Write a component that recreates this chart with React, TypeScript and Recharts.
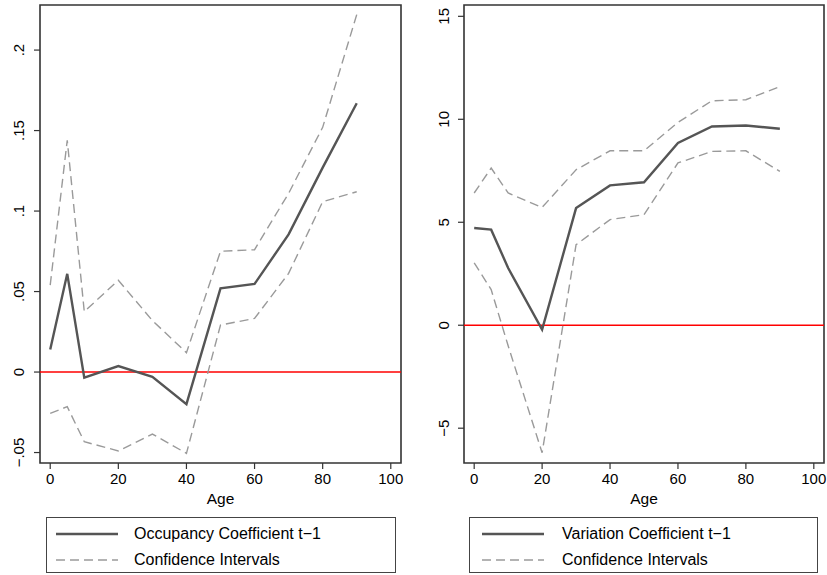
import React from 'react';
import { LineChart, Line, XAxis, YAxis, ReferenceLine, ReferenceArea } from 'recharts';

// age groups on the x axis
const ages = [0, 5, 10, 20, 30, 40, 50, 60, 70, 80, 90];
const ageTicks = [0, 20, 40, 60, 80, 100];

// left panel: occupancy coefficient
const occCoef = [0.014, 0.061, -0.0035, 0.0037, -0.003, -0.0199, 0.052, 0.0547, 0.0855, 0.127, 0.167];
const occUpper = [0.054, 0.144, 0.0375, 0.057, 0.032, 0.012, 0.075, 0.076, 0.111, 0.152, 0.222];
const occLower = [-0.0257, -0.0215, -0.0433, -0.049, -0.0385, -0.0505, 0.0292, 0.0333, 0.0613, 0.1058, 0.112];
const occTicks = [-0.05, 0, 0.05, 0.1, 0.15, 0.2];

// right panel: variation coefficient
const varCoef = [4.72, 4.64, 2.78, -0.21, 5.69, 6.79, 6.94, 8.85, 9.65, 9.7, 9.54];
const varUpper = [6.42, 7.63, 6.42, 5.72, 7.55, 8.47, 8.47, 9.85, 10.9, 10.95, 11.59];
const varLower = [3.03, 1.73, -1.0, -6.19, 3.91, 5.13, 5.37, 7.88, 8.44, 8.47, 7.47];
const varTicks = [-5, 0, 5, 10, 15];

const FONT = '"Liberation Sans", Arial, Helvetica, sans-serif';
const FRAME = '#333333';
const SOLID = '#555555';
const DASHED = '#9a9a9a';

const makeRows = (coef: number[], upper: number[], lower: number[]) =>
  ages.map((age, i) => ({ age, coef: coef[i], upper: upper[i], lower: lower[i] }));

// stata-like labels: ".05", "−.05"
const fmtShare = (v: number) => {
  if (v === 0) return '0';
  const s = String(Math.abs(v)).replace(/^0/, '');
  return v < 0 ? `\u2212${s}` : s;
};
const fmtInt = (v: number) => (v < 0 ? `\u2212${Math.abs(v)}` : String(v));

const RotatedTick = (props: any) => {
  const { x, y, payload, shift, format } = props;
  const px = x - shift;
  return (
    <text
      x={px}
      y={y}
      transform={`rotate(-90, ${px}, ${y})`}
      textAnchor="middle"
      fontSize={15}
      fontFamily={FONT}
      fill="#000"
    >
      {format(payload.value)}
    </text>
  );
};

interface PanelProps {
  left: number;
  width: number;
  yAxisWidth: number;
  marginRight: number;
  yDomain: [number, number];
  yTicks: number[];
  format: (v: number) => string;
  shift: number;
  rows: any[];
  label: string;
  legendLeft: number;
  legendWidth: number;
  sampleLeft: number;
  textLeft: number;
}

const Panel = (p: PanelProps) => (
  <div style={{ position: 'absolute', left: p.left, top: 0, width: p.width, height: 575 }}>
    <LineChart
      width={p.width}
      height={515}
      data={p.rows}
      margin={{ top: 5, right: p.marginRight, left: 0, bottom: 0 }}
      style={{ fontFamily: FONT }}
    >
      <XAxis
        dataKey="age"
        type="number"
        domain={[-3, 103]}
        ticks={ageTicks}
        allowDataOverflow
        height={52}
        axisLine={false}
        tickSize={6}
        tickMargin={4}
        tickLine={{ stroke: FRAME, strokeWidth: 1.2 }}
        tick={{ fontSize: 15, fill: '#000', fontFamily: FONT }}
        label={{ value: 'Age', position: 'insideBottom', offset: 11, fontSize: 15.5, fill: '#000', fontFamily: FONT }}
      />
      <YAxis
        type="number"
        domain={p.yDomain}
        ticks={p.yTicks}
        allowDataOverflow
        width={p.yAxisWidth}
        axisLine={false}
        tickSize={6}
        tickLine={{ stroke: FRAME, strokeWidth: 1.2 }}
        tick={<RotatedTick shift={p.shift} format={p.format} />}
      />
      <ReferenceArea
        x1={-3}
        x2={103}
        y1={p.yDomain[0]}
        y2={p.yDomain[1]}
        fill="none"
        stroke={FRAME}
        strokeWidth={1.6}
        ifOverflow="visible"
      />
      <ReferenceLine y={0} stroke="#ff0000" strokeWidth={1.6} />
      <Line type="linear" dataKey="upper" stroke={DASHED} strokeWidth={1.4} strokeDasharray="9 5" dot={false} isAnimationActive={false} />
      <Line type="linear" dataKey="lower" stroke={DASHED} strokeWidth={1.4} strokeDasharray="9 5" dot={false} isAnimationActive={false} />
      <Line type="linear" dataKey="coef" stroke={SOLID} strokeWidth={2.4} dot={false} isAnimationActive={false} />
    </LineChart>
    <div
      style={{
        position: 'absolute',
        left: p.legendLeft,
        top: 517,
        width: p.legendWidth,
        height: 56,
        border: '1px solid #444',
        boxSizing: 'border-box',
        fontFamily: FONT,
        fontSize: 16,
        color: '#000',
      }}
    >
      {[
        { text: p.label, color: SOLID, w: 2.4, dash: undefined as string | undefined, top: 16 },
        { text: 'Confidence Intervals', color: DASHED, w: 1.4, dash: '9 5', top: 42 },
      ].map((item) => (
        <div key={item.text} style={{ position: 'absolute', left: 0, top: item.top - 10, height: 20, width: '100%' }}>
          <svg style={{ position: 'absolute', left: p.sampleLeft, top: 0 }} width={62} height={20}>
            <line x1={0} x2={62} y1={10} y2={10} stroke={item.color} strokeWidth={item.w} strokeDasharray={item.dash} />
          </svg>
          <span style={{ position: 'absolute', left: p.textLeft, top: 0, lineHeight: '20px', whiteSpace: 'nowrap' }}>
            {item.text}
          </span>
        </div>
      ))}
    </div>
  </div>
);

export default function App() {
  return (
    <div style={{ position: 'absolute', left: 0, top: 0, width: 827, height: 575, background: '#fff' }}>
      <Panel
        left={0}
        width={410}
        yAxisWidth={40}
        marginRight={9}
        yDomain={[-0.0565, 0.228]}
        yTicks={occTicks}
        format={fmtShare}
        shift={7.5}
        rows={makeRows(occCoef, occUpper, occLower)}
        label={'Occupancy Coefficient t\u22121'}
        legendLeft={46}
        legendWidth={350}
        sampleLeft={9}
        textLeft={87}
      />
      <Panel
        left={415}
        width={412}
        yAxisWidth={49}
        marginRight={3}
        yDomain={[-6.69, 15.55]}
        yTicks={varTicks}
        format={fmtInt}
        shift={7}
        rows={makeRows(varCoef, varUpper, varLower)}
        label={'Variation Coefficient t\u22121'}
        legendLeft={54}
        legendWidth={349}
        sampleLeft={12}
        textLeft={92}
      />
    </div>
  );
}
